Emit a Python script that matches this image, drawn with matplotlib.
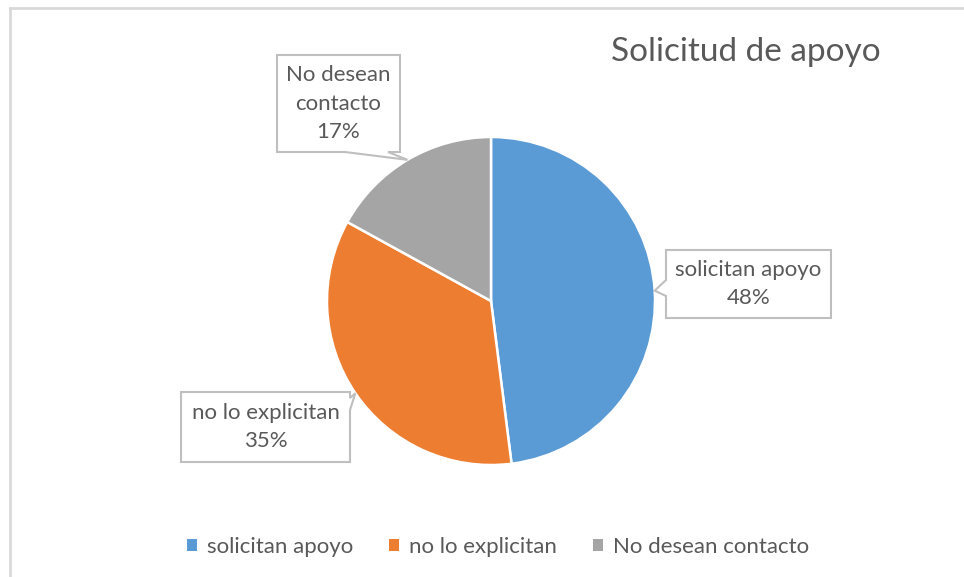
import matplotlib
matplotlib.use("Agg")
import matplotlib.pyplot as plt
import numpy as np
from matplotlib.patches import Polygon

labels = ['solicitan apoyo', 'no lo explicitan', 'No desean contacto']
box_labels = ['solicitan apoyo\n48%', 'no lo explicitan\n35%', 'No desean\ncontacto\n17%']
values = [48, 35, 17]
colors = ['#5B9BD5', '#ED7D31', '#A5A5A5']
title = 'Solicitud de apoyo'

plt.rcParams['font.family'] = ['Lato', 'DejaVu Sans']
txt_col = '#595959'

W, H = 964, 577
fig = plt.figure(figsize=(W / 100, H / 100), dpi=100)
ax = fig.add_axes([0, 0, 1, 1])

cx, cy, R = 491, H - 301, 164
wedges, _ = ax.pie(values, colors=colors, startangle=90, counterclock=False,
                   center=(cx, cy), radius=R,
                   wedgeprops=dict(edgecolor='white', linewidth=1.8))
ax.set_xlim(0, W)
ax.set_ylim(0, H)
ax.set_aspect('equal')
ax.axis('off')

# callout boxes: (x0, y0_top_px, x1, y1_bottom_px), pointer side, base positions
boxes = [
    ((666, 250, 831, 318), 'left', (280, 296)),
    ((181, 392, 350, 462), 'right', (398, 410)),
    ((277, 55, 400, 152), 'bottom', (345, 388)),
]

for w, lab, (bx, side, base) in zip(wedges, box_labels, boxes):
    mid = np.deg2rad((w.theta1 + w.theta2) / 2)
    tip = (cx + R * np.cos(mid), cy + R * np.sin(mid))
    x0, t, x1, b = bx
    yt, yb = H - t, H - b
    if side == 'left':
        pts = [(x0, yt), (x1, yt), (x1, yb), (x0, yb),
               (x0, H - base[1]), tip, (x0, H - base[0])]
    elif side == 'right':
        pts = [(x0, yt), (x1, yt), (x1, H - base[0]), tip,
               (x1, H - base[1]), (x1, yb), (x0, yb)]
    else:
        pts = [(x0, yt), (x1, yt), (x1, yb), (base[1], yb), tip,
               (base[0], yb), (x0, yb)]
    ax.add_patch(Polygon(pts, closed=True, facecolor='white',
                         edgecolor='#BFBFBF', linewidth=1.5, zorder=3))
    ax.text((x0 + x1) / 2, (yt + yb) / 2, lab, ha='center', va='center',
            fontsize=16, color=txt_col, linespacing=1.55, zorder=4)

fig.text(746 / W, 1 - 52 / H, title, ha='center', va='center',
         fontsize=24, color=txt_col)

# chart border (top and left)
fig.add_artist(plt.Line2D([10 / W, 1], [1 - 8 / H, 1 - 8 / H],
                          color='#D9D9D9', linewidth=2))
fig.add_artist(plt.Line2D([10 / W, 10 / W], [0, 1 - 8 / H],
                          color='#D9D9D9', linewidth=2))

leg = fig.legend(wedges, labels, loc='center', ncol=3,
                 bbox_to_anchor=(498 / W, 1 - 547 / H), frameon=False,
                 fontsize=16, handlelength=0.45, handleheight=0.45,
                 handletextpad=0.45, columnspacing=1.6, labelcolor=txt_col)
for h in leg.legend_handles:
    h.set_edgecolor('none')

fig.savefig('out.png', dpi=100)
